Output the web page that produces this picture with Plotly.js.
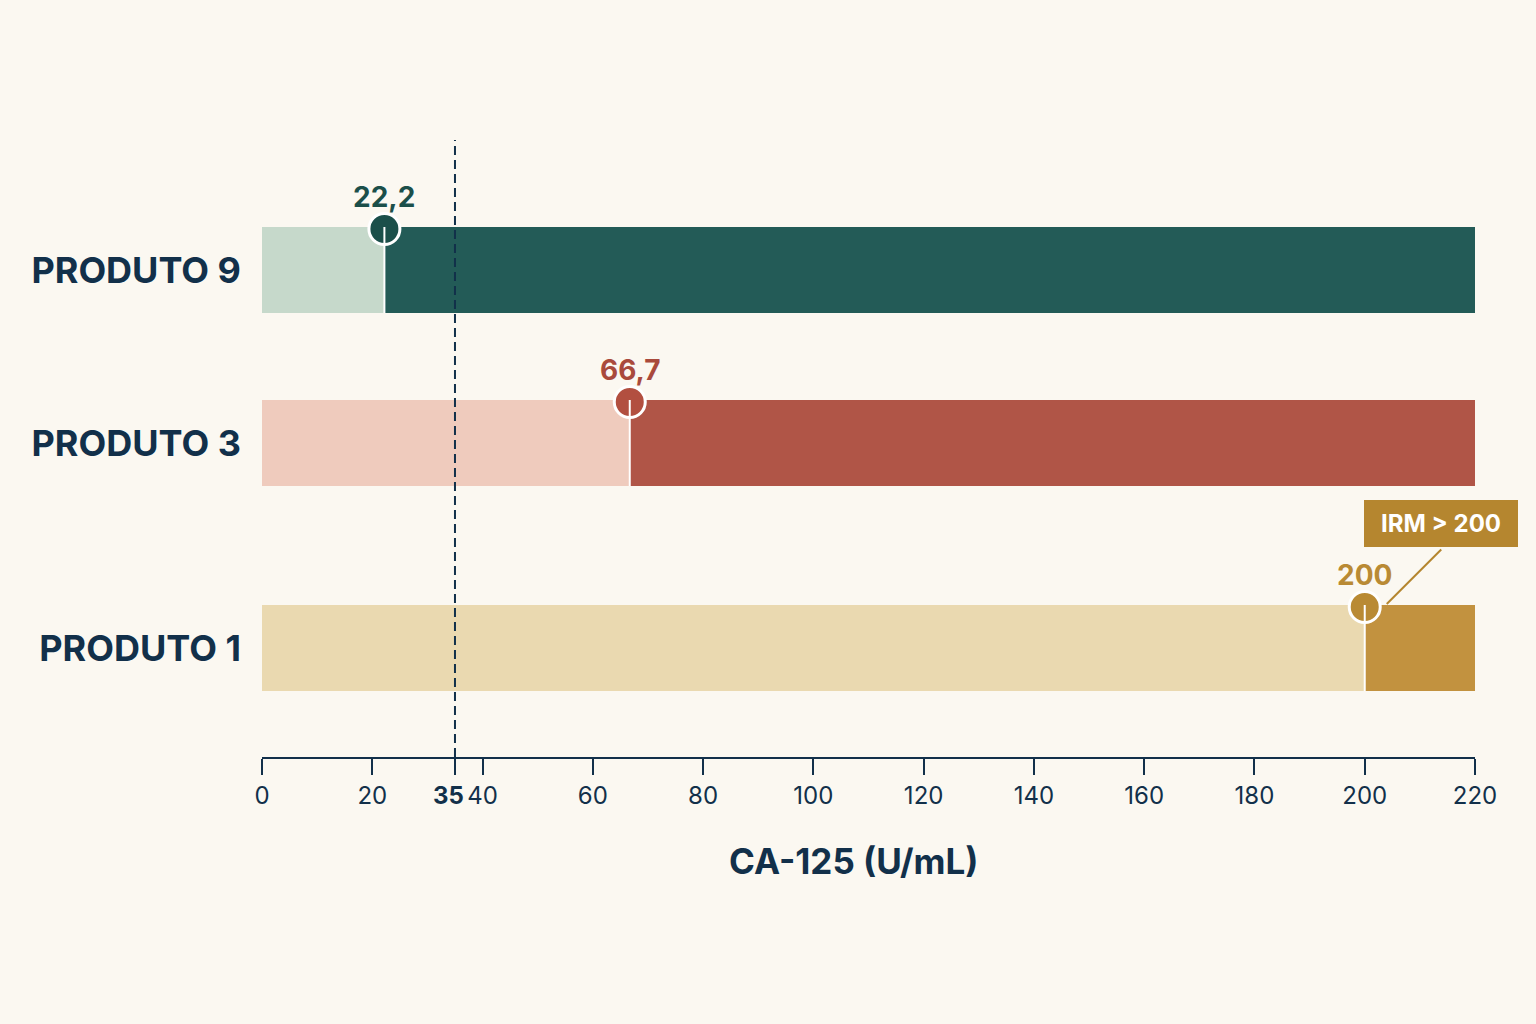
<!DOCTYPE html>
<html>
<head>
<meta charset="utf-8">
<script src="https://cdn.plot.ly/plotly-3.0.1.min.js"></script>
<style>
  html, body { margin: 0; padding: 0; background: #fbf8f1; }
  #chart { width: 1536px; height: 1024px; }
</style>
</head>
<body>
<div id="chart"></div>
<script>
// ---- Data ----
const products = ['PRODUTO 1', 'PRODUTO 3', 'PRODUTO 9'];
const values = [200, 66.7, 22.2];
const scaleMax = 220;
const threshold = 35;
const xTicks = [0, 20, 35, 40, 60, 80, 100, 120, 140, 160, 180, 200, 220];
const calloutText = 'IRM &gt; 200';
const axisTitle = 'CA-125 (U/mL)';

// ---- Layout / style constants ----
const rowPos = [1.09, 3.14, 4.87];      // vertical row centres (layout)
const barH = 0.86;
const lightColors = ['#ead9b0', '#efcbbd', '#c6d9cb'];
const darkColors = ['#c2923f', '#b05547', '#235b57'];
const markerColors = ['#b98a34', '#b24f40', '#1b4f4a'];
const labelColors = ['#b98a34', '#a94a3c', '#1b4f4a'];
const navy = '#12304a';
const calloutColor = '#b5862f';
const font = 'Inter, "Open Sans", sans-serif';

const fmt = v => String(v).replace('.', ',');

const traces = [];
traces.push({
  type: 'bar', orientation: 'h',
  y: rowPos, x: values, base: 0, width: barH,
  marker: { color: lightColors, line: { width: 0 } },
  hoverinfo: 'skip', showlegend: false
});
traces.push({
  type: 'bar', orientation: 'h',
  y: rowPos, x: values.map(v => scaleMax - v), base: values, width: barH,
  marker: { color: darkColors, line: { width: 0 } },
  hoverinfo: 'skip', showlegend: false
});
traces.push({
  type: 'scatter', mode: 'markers',
  x: values, y: rowPos.map(r => r + barH / 2 - 0.02),
  marker: { size: 31, color: markerColors, line: { color: '#ffffff', width: 3 } },
  hoverinfo: 'skip', showlegend: false, cliponaxis: false
});

const shapes = [];
values.forEach((v, i) => {
  shapes.push({
    type: 'line', xref: 'x', yref: 'y',
    x0: v, x1: v, y0: rowPos[i] - barH / 2, y1: rowPos[i] + barH / 2,
    line: { color: '#ffffff', width: 2 }, layer: 'above'
  });
});
shapes.push({
  type: 'line', xref: 'x', yref: 'paper',
  x0: threshold, x1: threshold, y0: 0, y1: 1,
  line: { color: navy, width: 2, dash: '9px,5px' }, layer: 'above'
});

const annotations = [];
values.forEach((v, i) => {
  annotations.push({
    x: v, y: rowPos[i] + barH / 2, xref: 'x', yref: 'y',
    text: '<b>' + fmt(v) + '</b>', showarrow: false,
    yshift: 30, font: { family: font, size: 28, color: labelColors[i] }
  });
});
// callout connector (from the marker's right edge to the box)
annotations.push({
  x: values[0], y: rowPos[0] + barH / 2, xref: 'x', yref: 'y',
  text: '', showarrow: true, arrowhead: 0, arrowwidth: 2, arrowcolor: calloutColor,
  xshift: 22, yshift: 1, ax: 56, ay: -56, standoff: 0
});
// callout box
annotations.push({
  x: values[0], y: rowPos[0] + barH / 2, xref: 'x', yref: 'y',
  text: '<b>' + calloutText + '</b>', showarrow: false,
  xshift: 76, yshift: 82,
  bgcolor: calloutColor, borderpad: 10, borderwidth: 0, width: 134, height: 27,
  font: { family: font, size: 24, color: '#ffffff' }
});
// threshold tick label (bold), nudged left so it does not collide with 40
annotations.push({
  x: threshold, y: 0, xref: 'x', yref: 'paper', yanchor: 'top',
  text: '<b>' + threshold + '</b>', showarrow: false,
  xshift: -6, yshift: -22, font: { family: font, size: 24, color: navy }
});
// axis title
annotations.push({
  x: 0.5, y: 0, xref: 'paper', yref: 'paper', yanchor: 'middle',
  text: '<b>' + axisTitle + '</b>', showarrow: false,
  xshift: -15, yshift: -104, font: { family: font, size: 35, color: navy }
});

const layout = {
  width: 1536, height: 1024,
  paper_bgcolor: '#fbf8f1', plot_bgcolor: '#fbf8f1',
  margin: { l: 262, r: 61, t: 140, b: 267 },
  barmode: 'overlay', bargap: 0,
  font: { family: font, color: navy },
  xaxis: {
    range: [0, scaleMax], showgrid: false, zeroline: false,
    showline: true, linecolor: navy, linewidth: 2,
    ticks: 'outside', ticklen: 16, tickwidth: 2, tickcolor: navy,
    tickvals: xTicks, tickangle: 0,
    ticktext: xTicks.map(t => t === threshold ? '' : String(t)),
    tickfont: { family: font, size: 24, color: navy }
  },
  yaxis: {
    range: [0, 6.17], showgrid: false, zeroline: false, showline: false,
    tickvals: rowPos, ticktext: products.map(p => '<b>' + p + '</b>'),
    tickfont: { family: font, size: 36, color: navy },
    ticks: '', ticklabelstandoff: 20
  },
  shapes: shapes,
  annotations: annotations
};

Plotly.newPlot('chart', traces, layout, { displayModeBar: false, staticPlot: true });
</script>
</body>
</html>
